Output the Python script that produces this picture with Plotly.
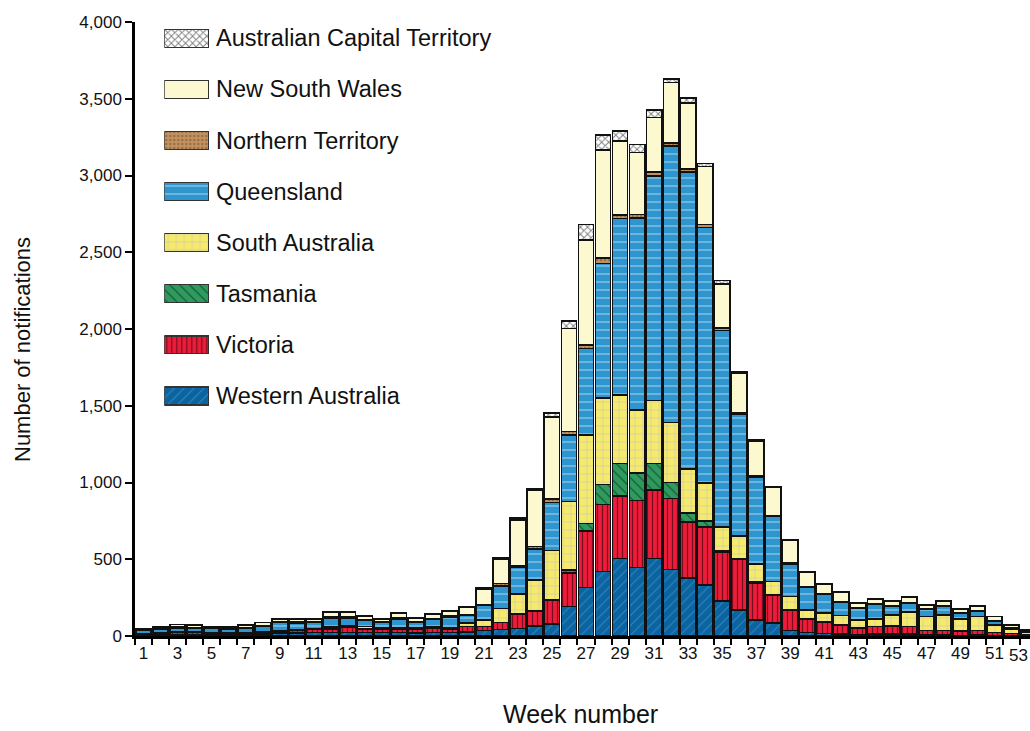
import plotly.graph_objects as go

weeks = list(range(1, 54))

wa = [8,10,10,10,10,12,10,12,18,18, 22,22,24,22,22,22,20,22,24,28,
      35,43,50,65,78,191,315,419,506,445, 504,434,376,332,228,169,104,83,35,22,
      17,13,9,13,13,13,5,5,4,5, 3,3,2]
vic = [5,6,15,15,10,8,8,8,12,18, 20,21,33,21,20,24,24,28,20,33,
       26,44,90,97,158,221,369,439,408,437, 447,463,365,380,319,331,243,184,134,89,
       76,59,41,48,52,48,30,30,29,30, 19,14,8]
tas = [1,1,1,1,1,1,1,1,1,1, 1,1,1,1,1,1,1,1,1,1,
       0,2,3,3,3,18,50,130,211,178, 174,104,62,37,9,6,5,2,2,1,
       1,1,1,1,1,1,1,1,1,1, 1,0,0]
sa = [3,3,3,3,3,3,4,5,6,5, 5,14,10,18,8,8,6,11,8,22,
      43,91,129,200,317,445,576,561,445,412, 408,391,285,246,156,146,117,87,87,58,
      55,60,54,48,72,93,91,102,76,91, 50,26,12]
qld = [22,25,25,25,25,22,28,35,50,40, 40,60,50,40,40,57,40,47,72,50,
       98,146,176,202,315,435,562,879,1149,1251, 1462,1800,1935,1665,1277,793,565,422,212,148,
       121,84,74,95,58,57,48,58,37,37, 25,10,10]
nt = [1,2,3,2,2,5,3,4,5,8, 3,4,4,3,3,4,3,3,4,4,
      4,17,10,15,22,21,24,33,22,22, 26,20,19,22,18,12,10,6,5,4,
      3,3,2,2,2,2,2,2,2,2, 1,1,1]
nsw = [5,9,17,13,11,11,15,22,20,20, 18,30,30,23,13,30,19,27,34,47,
       101,160,299,366,532,671,684,705,484,406, 356,395,432,376,286,253,225,186,148,95,
       65,68,35,31,31,37,24,29,24,28, 27,17,9]
act = [1,1,2,1,1,1,1,2,3,3, 3,3,3,3,3,3,3,3,3,3,
       4,7,10,10,26,52,102,98,65,52, 48,22,31,19,22,10,8,5,4,3,
       2,2,2,2,2,2,2,2,2,2, 1,1,1]

series_names = ["Western Australia", "Victoria", "Tasmania", "South Australia",
                "Queensland", "Northern Territory", "New South Wales",
                "Australian Capital Territory"]
series_values = [wa, vic, tas, sa, qld, nt, nsw, act]

tick_weeks = list(range(1, 52, 2))   # 53 is added as a text at the right edge
last_tick = "53"
y_ticks = list(range(0, 4001, 500))

styles = {
    "Western Australia": dict(color="#0B64A0", shape="/", fg="#5AA6DC", size=7, sol=0.15),
    "Victoria": dict(color="#EE1C3A", shape="|", fg="#000000", size=5, sol=0.25),
    "Tasmania": dict(color="#2E9A5E", shape="\\", fg="#000000", size=7, sol=0.15),
    "South Australia": dict(color="#F6EA6A", shape="+", fg="#B4B6D8", size=8, sol=0.2),
    "Queensland": dict(color="#2E95CF", shape="-", fg="#FFFFFF", size=8, sol=0.15),
    "Northern Territory": dict(color="#C49260", shape=".", fg="#6B4A2A", size=4, sol=0.3),
    "New South Wales": dict(color="#FCF8D0", shape="", fg="#FCF8D0", size=8, sol=0.3),
    "Australian Capital Territory": dict(color="#FFFFFF", shape="x", fg="#000000", size=5, sol=0.35),
}

FONT = "Arial, Liberation Sans, sans-serif"
TXT = "#111111"

fig = go.Figure()

for name, vals in zip(series_names, series_values):
    s = styles[name]
    fig.add_trace(go.Bar(
        x=weeks, y=vals, name=name, showlegend=False,
        marker=dict(color=s["color"], line=dict(color="#111111", width=1.6),
                    pattern=dict(shape=s["shape"], fgcolor=s["fg"], size=s["size"],
                                 solidity=s["sol"], fillmode="overlay")),
    ))

# custom legend: swatches drawn as bars on a hidden axis pair, labels as text
L_TOP, L_STEP, PLOT_TOP, PLOT_H, PLOT_L, PLOT_W = 38.3, 51.1, 22, 614, 135, 895
for k, name in enumerate(series_names):
    s = styles[name]
    fig.add_trace(go.Bar(
        x=[1], y=[k], base=[0], orientation="h", width=0.352, showlegend=False,
        xaxis="x2", yaxis="y2", hoverinfo="skip",
        marker=dict(color=s["color"], line=dict(color="#333333", width=1.2),
                    pattern=dict(shape=s["shape"], fgcolor=s["fg"], size=s["size"],
                                 solidity=s["sol"], fillmode="overlay")),
    ))
    ypix = L_TOP + (7 - k) * L_STEP
    fig.add_annotation(x=(214 - PLOT_L) / PLOT_W, y=(PLOT_TOP + PLOT_H - ypix) / PLOT_H,
                       xref="paper", yref="paper", text=name, showarrow=False,
                       xanchor="left", yanchor="middle",
                       font=dict(family=FONT, size=23.5, color=TXT))

# last week label, kept inside the page at the right edge
fig.add_annotation(x=1.0, y=(636 - 655) / PLOT_H, xref="paper", yref="paper",
                   text=last_tick, showarrow=False, xanchor="right", yanchor="middle",
                   font=dict(family=FONT, size=17, color=TXT))

# axis titles
fig.add_annotation(x=(22 - PLOT_L) / PLOT_W, y=(636 - 350) / PLOT_H, xref="paper", yref="paper",
                   text="Number of notifications", textangle=-90, showarrow=False,
                   xanchor="center", yanchor="middle",
                   font=dict(family=FONT, size=22, color=TXT))
fig.add_annotation(x=(580.5 - PLOT_L) / PLOT_W, y=(636 - 714) / PLOT_H, xref="paper", yref="paper",
                   text="Week number", showarrow=False, xanchor="center", yanchor="middle",
                   font=dict(family=FONT, size=25, color=TXT))

fig.update_layout(
    width=1030, height=731,
    margin=dict(l=135, r=0, t=22, b=95),
    paper_bgcolor="white", plot_bgcolor="white",
    barmode="stack", bargap=0.1,
    font=dict(family=FONT, size=14, color=TXT),
    xaxis=dict(
        range=[0.5, 53.09], automargin=False,
        tickmode="array", tickvals=tick_weeks, ticktext=[str(w) for w in tick_weeks],
        ticks="", showline=True, linecolor="black", linewidth=2.5,
        showgrid=False, zeroline=False,
        tickfont=dict(family=FONT, size=17, color=TXT),
        minor=dict(tickmode="array", tickvals=[0.5 + i for i in range(54)],
                   ticks="outside", ticklen=6, tickwidth=2, tickcolor="black", showgrid=False),
    ),
    yaxis=dict(
        range=[0, 4000], tickmode="array", tickvals=y_ticks, automargin=False,
        tickformat=",", ticks="outside", ticklen=7, tickwidth=2, tickcolor="black",
        showline=True, linecolor="black", linewidth=2.5,
        showgrid=False, zeroline=False,
        tickfont=dict(family=FONT, size=17, color=TXT),
    ),
    xaxis2=dict(domain=[(164.3 - PLOT_L) / PLOT_W, (209 - PLOT_L) / PLOT_W], range=[0, 1],
                visible=False, anchor="y2"),
    yaxis2=dict(domain=[0.3, 1.0], range=[-1.092, 7.319], visible=False, anchor="x2"),
)

fig.write_html("out.html", config={"displayModeBar": False},
               post_script="document.body.style.margin='0';")
